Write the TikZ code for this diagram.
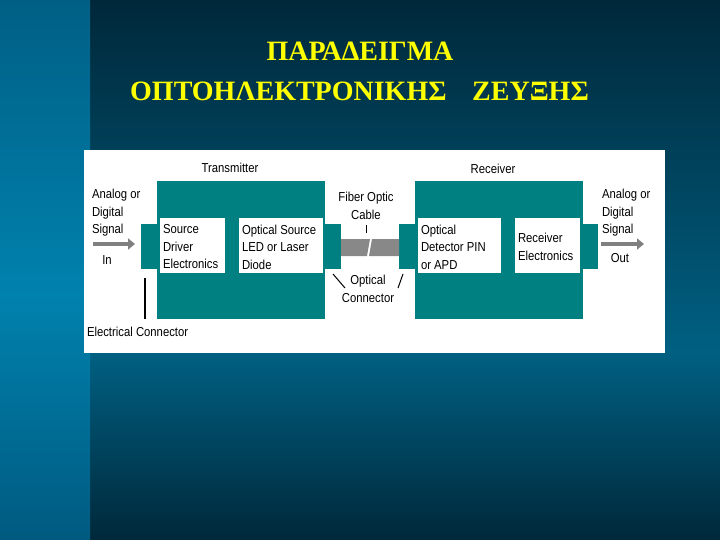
\documentclass[tikz,border=0pt]{standalone}
\usepackage{fontspec}
\setmainfont{Liberation Serif}
\newfontfamily\diagfont[FakeStretch=0.87]{Liberation Sans}
\usetikzlibrary{arrows.meta}
\definecolor{tealbox}{RGB}{0,128,128}
\definecolor{arrowgray}{RGB}{128,128,128}
\definecolor{cablegray}{RGB}{136,136,136}
\definecolor{bgdark}{HTML}{00283A}
\definecolor{bgmid}{HTML}{006082}
\definecolor{stripA}{HTML}{005F85}
\definecolor{stripB}{HTML}{0082AE}
\definecolor{stripC}{HTML}{005A80}
\definecolor{titleyellow}{RGB}{255,255,0}
\begin{document}
\begin{tikzpicture}[x=1pt,y=-1pt,
  lbl/.style={font=\diagfont\fontsize{13}{17.5}\selectfont, inner sep=0pt, outer sep=0pt, align=left, text=black},
  blk/.style={fill=tealbox, draw=none, inner sep=0pt, outer sep=0pt, anchor=north west},
  wbox/.style={fill=white, draw=none, inner sep=0pt, outer sep=0pt, anchor=north west},
  sigarrow/.style={draw=arrowgray, line width=4pt, -{Triangle[length=7pt,width=11pt]}},
  thinline/.style={draw=black, line width=1.2pt},
  titletext/.style={font=\bfseries\fontsize{28}{34}\selectfont, text=titleyellow, inner sep=0pt}]
\useasboundingbox (0,0) rectangle (720,540);
% background
\shade[top color=bgdark, bottom color=bgmid] (90,0) rectangle (720,352);
\shade[top color=bgmid, bottom color=bgdark] (90,352) rectangle (720,540);
\shade[top color=stripA, bottom color=stripB] (0,0) rectangle (90,295);
\shade[top color=stripB, bottom color=stripC] (0,295) rectangle (90,540);
% title
\node[titletext, anchor=base] (t1) at (360,61) {ΠΑΡΑΔΕΙΓΜΑ};
\node[titletext, anchor=base west] (t2) at (130,101) {ΟΠΤΟΗΛΕΚΤΡΟΝΙΚΗΣ};
\node[titletext, anchor=base west] (t3) at (472,101) {ΖΕΥΞΗΣ};
% white panel
\node[wbox, minimum width=581pt, minimum height=203pt] (panel) at (84,150) {};
% transmitter
\node[blk, minimum width=168pt, minimum height=138pt] (tx) at (157,181) {};
\node[blk, minimum width=16pt, minimum height=45pt] (txl) at (141,224) {};
\node[blk, minimum width=16pt, minimum height=45pt] (txr) at (325,224) {};
\node[wbox, minimum width=65pt, minimum height=55pt] (drv) at (160,218) {};
\node[wbox, minimum width=84pt, minimum height=55pt] (src) at (239,218) {};
% receiver
\node[blk, minimum width=168pt, minimum height=138pt] (rx) at (415,181) {};
\node[blk, minimum width=16pt, minimum height=45pt] (rxl) at (399,224) {};
\node[blk, minimum width=15pt, minimum height=45pt] (rxr) at (583,224) {};
\node[wbox, minimum width=83pt, minimum height=55pt] (det) at (418,218) {};
\node[wbox, minimum width=65pt, minimum height=55pt] (rel) at (515,218) {};
% cable
\fill[cablegray] (txr.east |- 0,239) -- (370,239) -- (367,256) -- (txr.east |- 0,256) -- cycle;
\fill[cablegray] (372,239) -- (rxl.west |- 0,239) -- (rxl.west |- 0,256) -- (369,256) -- cycle;
% labels
\node[lbl, anchor=center] (ltx) at (230,168) {Transmitter};
\node[lbl, anchor=center] (lrx) at (493,169) {Receiver};
\node[lbl, anchor=center, align=center] (lcab) at (366,206) {Fiber Optic\\Cable};
\node[lbl, anchor=center, align=center] (lcon) at (368,289) {Optical\\Connector};
\node[lbl, anchor=west] (lin) at (92,213) {Analog or\\Digital\\Signal};
\node[lbl, anchor=west] (lout) at (602,213) {Analog or\\Digital\\Signal};
\node[lbl, anchor=center] (tin) at (107,260) {In};
\node[lbl, anchor=center] (tout) at (620,258) {Out};
\node[lbl, anchor=west] (lec) at (87,332) {Electrical Connector};
\node[lbl, anchor=west] (tdrv) at (163,247) {Source\\Driver\\Electronics};
\node[lbl, anchor=west] (tsrc) at (242,247) {Optical Source\\LED or Laser\\Diode};
\node[lbl, anchor=west] (tdet) at (421,247) {Optical\\Detector PIN\\or APD};
\node[lbl, anchor=west] (trel) at (518,247) {Receiver\\Electronics};
% signal arrows
\coordinate (inA) at (93,244);
\coordinate (inB) at (135,244);
\coordinate (outA) at (601,244);
\coordinate (outB) at (644,244);
\draw[sigarrow] (inA) -- (inB);
\draw[sigarrow] (outA) -- (outB);
% pointer lines
\coordinate (ecTop) at (145,278);
\coordinate (ecBot) at (145,319);
\draw[thinline] (ecTop) -- (ecBot);
\coordinate (cabTick) at (366,233);
\draw[thinline, line width=1pt] (366,225) -- (cabTick);
\coordinate (ocL1) at (333,274);
\coordinate (ocL2) at (345,288);
\coordinate (ocR1) at (403,274);
\coordinate (ocR2) at (398,288);
\draw[thinline, line width=1pt] (ocL1) -- (ocL2);
\draw[thinline, line width=1pt] (ocR1) -- (ocR2);
\end{tikzpicture}
\end{document}
